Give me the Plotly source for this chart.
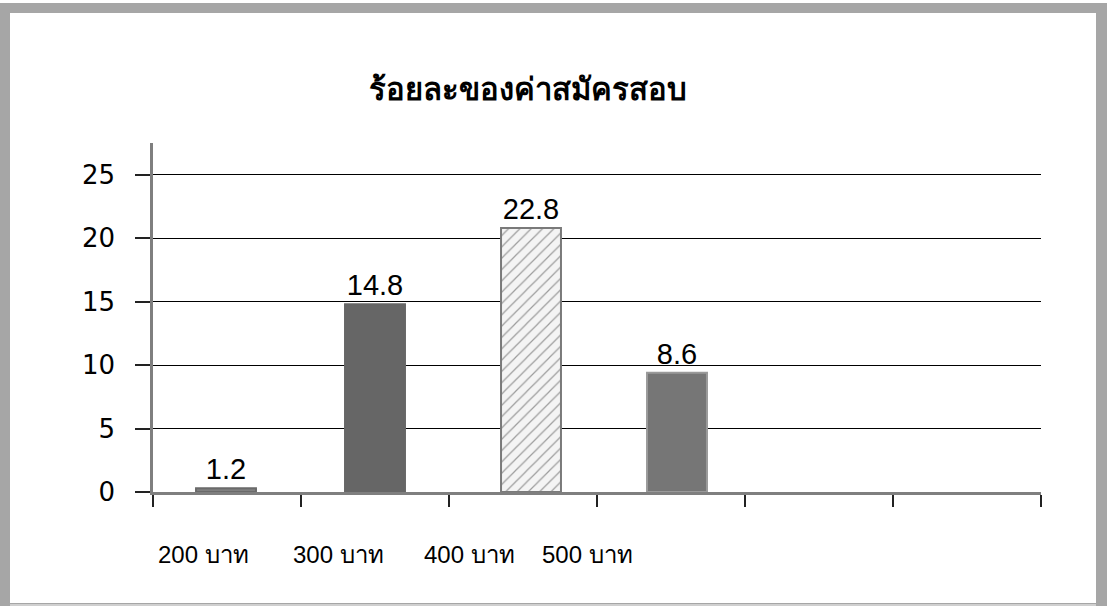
import plotly.graph_objects as go

# ---- data ----
slots = ["200 บาท", "300 บาท", "400 บาท", "500 บาท", "slot5", "slot6"]
categories = ["200 บาท", "300 บาท", "400 บาท", "500 บาท"]
bar_heights = [0.3, 14.8, 20.8, 9.4]
bar_labels = ["1.2", "14.8", "22.8", "8.6"]
y_ticks = [0, 5, 10, 15, 20, 25]
title_text = "ร้อยละของค่าสมัครสอบ"

W, H = 1107, 606
L, R, T, B = 153, 1041, 143, 492
SLOT_PX = (R - L) / len(slots)


def px(x):
    return (x - L) / (R - L)


def py(y):
    return (B - y) / (B - T)


fill_colors = ["#7f7f7f", "#666666", "#f4f4f4", "#767676"]
line_colors = ["#6a6a6a", "#666666", "#7a7a7a", "#9a9a9a"]
pattern_shapes = ["", "", "/", ""]
bar_width = 0.405
bar_nudge_px = [-1, 0, 8, 6]  # slight horizontal nudges seen in the reference
bar_offsets = [-bar_width / 2 + d / SLOT_PX for d in bar_nudge_px]

fig = go.Figure()
fig.add_trace(go.Bar(
    x=categories,
    y=bar_heights,
    width=bar_width,
    offset=bar_offsets,
    text=bar_labels,
    textposition="outside",
    textfont=dict(family="Liberation Sans, Arial, sans-serif", size=29, color="#000000"),
    cliponaxis=False,
    marker=dict(
        color=fill_colors,
        line=dict(color=line_colors, width=2),
        pattern=dict(shape=pattern_shapes, fgcolor="#9a9a9a", bgcolor="#f4f4f4",
                     size=8, solidity=0.15),
    ),
    hoverinfo="skip",
))

# category labels placed like the reference (shifted left of their slots)
label_shift = [-24, -37, -54, -84]
annotations = []
for c, s in zip(categories, label_shift):
    annotations.append(dict(
        x=c, xref="x", y=py(554), yref="paper", xshift=s,
        text=c, showarrow=False, xanchor="center", yanchor="middle",
        font=dict(family="Liberation Sans, Arial, sans-serif", size=24, color="#000000"),
    ))
annotations.append(dict(
    x=px(528), xref="paper", y=py(89), yref="paper",
    text="<b>" + title_text + "</b>", showarrow=False, xanchor="center", yanchor="middle",
    font=dict(family="Liberation Sans, Arial, sans-serif", size=31, color="#000000"),
))

shapes = [
    # white inner panel over the gray paper frame
    dict(type="rect", xref="paper", yref="paper", x0=px(10), x1=px(1096), y0=py(603), y1=py(13),
         fillcolor="#ffffff", line=dict(width=0), layer="below"),
    dict(type="rect", xref="paper", yref="paper", x0=px(0), x1=px(W), y0=py(3), y1=py(0),
         fillcolor="#ffffff", line=dict(width=0), layer="below"),
    dict(type="rect", xref="paper", yref="paper", x0=px(10), x1=px(1096), y0=py(606), y1=py(604),
         fillcolor="#cfcfcf", line=dict(width=0), layer="below"),
]

fig.update_layout(
    width=W, height=H,
    margin=dict(l=L, r=W - R, t=T, b=H - B, pad=0),
    paper_bgcolor="#a6a6a6",
    plot_bgcolor="rgba(0,0,0,0)",
    showlegend=False,
    annotations=annotations,
    shapes=shapes,
    xaxis=dict(
        type="category",
        categoryorder="array", categoryarray=slots,
        range=[-0.5, len(slots) - 0.5],
        showticklabels=False,
        showgrid=False,
        zeroline=False,
        showline=True, linecolor="#7f7f7f", linewidth=3,
        ticks="outside", tickson="boundaries", ticklen=12, tickwidth=2, tickcolor="#222222",
        fixedrange=True,
    ),
    yaxis=dict(
        range=[0, 27.5],
        tickvals=y_ticks,
        showgrid=True, gridcolor="#000000", gridwidth=1,
        zeroline=False,
        showline=True, linecolor="#7f7f7f", linewidth=2.5,
        ticks="outside", ticklen=15, tickwidth=2, tickcolor="#222222",
        ticklabelstandoff=15,
        tickfont=dict(family="DejaVu Sans, Liberation Sans, sans-serif", size=26, color="#000000"),
        fixedrange=True,
    ),
)

fig.write_html(
    "out.html",
    config={"displayModeBar": False},
    post_script="document.body.style.margin='0';document.body.style.overflow='hidden';",
)
